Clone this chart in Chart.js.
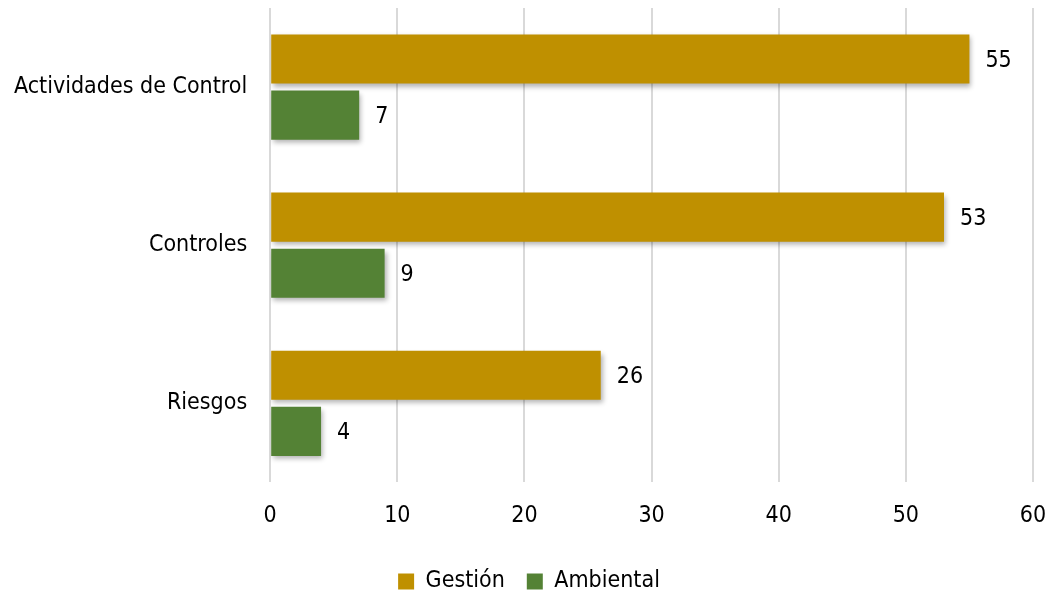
<!DOCTYPE html>
<html>
<head>
<meta charset="utf-8">
<script src="https://cdn.jsdelivr.net/npm/chart.js@4"></script>
<style>
  html, body { margin: 0; padding: 0; background: #fff; }
  #wrap { width: 1050px; height: 592px; }
</style>
</head>
<body>
<div id="wrap"><canvas id="myChart"></canvas></div>
<script>
// data
var categories = ["Actividades de Control", "Controles", "Riesgos"];
var gestion = [55, 53, 26];
var ambiental = [7, 9, 4];
var xTicks = [0, 10, 20, 30, 40, 50, 60];

var FONT = "'DejaVu Sans Condensed', 'DejaVu Sans', sans-serif";
var FS = 23;

// soft shadow under the bars
var barShadow = {
  id: "barShadow",
  beforeDatasetsDraw: function (chart) {
    var c = chart.ctx;
    c.save();
    c.shadowColor = "rgba(0,0,0,0.3)";
    c.shadowBlur = 5;
    c.shadowOffsetX = 2;
    c.shadowOffsetY = 3;
  },
  afterDatasetsDraw: function (chart) {
    chart.ctx.restore();
  },
};

// value labels at end of each bar
var endLabels = {
  id: "endLabels",
  afterDatasetsDraw: function (chart) {
    var c = chart.ctx;
    c.save();
    c.font = FS + "px " + FONT;
    c.fillStyle = "#000";
    c.textAlign = "left";
    c.textBaseline = "middle";
    chart.data.datasets.forEach(function (ds, i) {
      chart.getDatasetMeta(i).data.forEach(function (bar, j) {
        c.fillText(String(ds.data[j]), bar.x + 16, bar.y + 2);
      });
    });
    c.restore();
  },
};

var ctx = document.getElementById("myChart");
var myChart = new Chart(ctx, {
  type: "bar",
  data: {
    labels: categories,
    datasets: [
      {
        label: "Gestión",
        data: gestion,
        backgroundColor: "#BF9000",
        borderWidth: 0,
        categoryPercentage: 0.71,
        barPercentage: 0.875,
      },
      {
        label: "Ambiental",
        data: ambiental,
        backgroundColor: "#548235",
        borderWidth: 0,
        categoryPercentage: 0.71,
        barPercentage: 0.875,
      },
    ],
  },
  options: {
    indexAxis: "y",
    responsive: true,
    maintainAspectRatio: false,
    animation: false,
    layout: {
      padding: { top: 8, right: 0, bottom: -11, left: 8 },
    },
    plugins: {
      tooltip: { enabled: false },
      legend: {
        position: "bottom",
        labels: {
          font: { size: FS, family: FONT },
          color: "#000",
          boxWidth: 16,
          boxHeight: 16,
          padding: 22,
        },
      },
    },
    scales: {
      x: {
        min: 0,
        max: 60,
        afterBuildTicks: function (axis) {
          axis.ticks = xTicks.map(function (v) { return { value: v }; });
        },
        afterFit: function (axis) {
          axis.paddingLeft = 0;
          axis.paddingRight = 17;
          axis.height -= 2;
        },
        grid: {
          color: "#d9d9d9",
          lineWidth: 2,
          drawTicks: false,
        },
        border: { display: false },
        ticks: {
          color: "#000",
          font: { size: FS, family: FONT },
          padding: 20,
        },
      },
      y: {
        grid: { display: false, drawTicks: false },
        border: { display: false },
        afterFit: function (axis) {
          axis.paddingTop = 0;
          axis.paddingBottom = 0;
          axis.width -= 17;
        },
        ticks: {
          color: "#000",
          font: { size: FS, family: FONT },
          padding: 23,
        },
      },
    },
  },
  plugins: [barShadow, endLabels],
});
</script>
</body>
</html>
